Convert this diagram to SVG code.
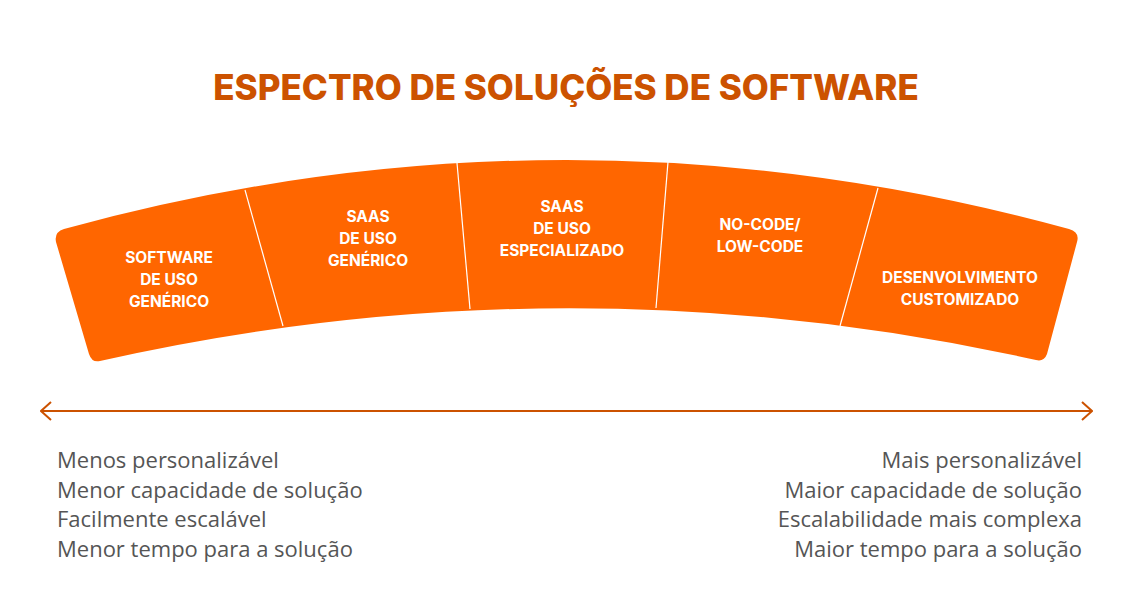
<svg xmlns="http://www.w3.org/2000/svg" width="1133" height="613" viewBox="0 0 1133 613">
<style>
.t{font-family:Inter,"Open Sans","Liberation Sans",sans-serif;font-weight:700;fill:#fff;font-size:15.5px;text-anchor:middle}
.d{stroke:#fff;stroke-width:1.2;fill:none}
.b{font-family:"Open Sans",Inter,"Liberation Sans",sans-serif;fill:#555;font-size:22px}
</style>
<defs><marker id="ah" viewBox="0 0 12 20" refX="11" refY="10" markerWidth="12" markerHeight="20" markerUnits="userSpaceOnUse" orient="auto-start-reverse"><path d="M1,1 L11,10 L1,19" fill="none" stroke="#CC5200" stroke-width="2"/></marker></defs>
<rect width="1133" height="613" fill="#fff"/>
<text x="566" y="100" font-family="Inter,'Open Sans','Liberation Sans',sans-serif" font-weight="800" font-size="35" fill="#CC5200" text-anchor="middle">ESPECTRO DE SOLUÇÕES DE SOFTWARE</text>
<g id="band"><path d="M64,229 Q566,91 1069,229 Q1080,232 1077,242 L1047,354 Q1044,362 1036,360 Q566,256 100,361 Q92,363 89,354 L56,242 Q54,232 64,229 Z" fill="#FF6600"/></g>
<g id="dividers"><path class="d" d="M245,190 L283,326"/><path class="d" d="M457,163 L470,309"/><path class="d" d="M668,162 L656,308"/><path class="d" d="M878,188 L840,326"/></g>
<g id="n1"><text class="t" x="169" y="263">SOFTWARE</text><text class="t" x="169" y="285">DE USO</text><text class="t" x="169" y="307">GENÉRICO</text></g>
<g id="n2"><text class="t" x="368" y="222">SAAS</text><text class="t" x="368" y="244">DE USO</text><text class="t" x="368" y="266">GENÉRICO</text></g>
<g id="n3"><text class="t" x="562" y="212">SAAS</text><text class="t" x="562" y="234">DE USO</text><text class="t" x="562" y="256">ESPECIALIZADO</text></g>
<g id="n4"><text class="t" x="760" y="230">NO-CODE/</text><text class="t" x="760" y="252">LOW-CODE</text></g>
<g id="n5"><text class="t" x="960" y="283">DESENVOLVIMENTO</text><text class="t" x="960" y="305">CUSTOMIZADO</text></g>
<g id="connectors"><line x1="41" y1="411" x2="1092" y2="411" stroke="#CC5200" stroke-width="2" marker-start="url(#ah)" marker-end="url(#ah)"/></g>
<g id="left"><text class="b" x="57" y="468">Menos personalizável</text><text class="b" x="57" y="498">Menor capacidade de solução</text><text class="b" x="57" y="527">Facilmente escalável</text><text class="b" x="57" y="557">Menor tempo para a solução</text></g>
<g id="right" text-anchor="end"><text class="b" x="1082" y="468" text-anchor="end">Mais personalizável</text><text class="b" x="1082" y="498" text-anchor="end">Maior capacidade de solução</text><text class="b" x="1082" y="527" text-anchor="end">Escalabilidade mais complexa</text><text class="b" x="1082" y="557" text-anchor="end">Maior tempo para a solução</text></g>
</svg>
